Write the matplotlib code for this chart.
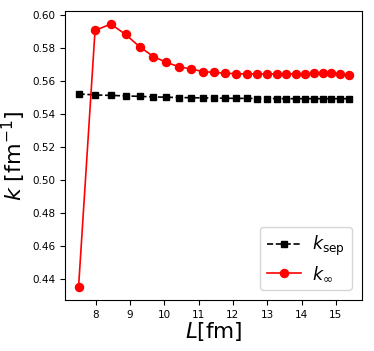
import numpy as np
import matplotlib
matplotlib.use("Agg")
import matplotlib.pyplot as plt

L = [7.50, 7.98, 8.44, 8.87, 9.29, 9.68, 10.06, 10.43, 10.78, 11.12, 11.46, 11.78,
     12.09, 12.40, 12.70, 12.99, 13.28, 13.56, 13.83, 14.10, 14.36, 14.62, 14.87,
     15.12, 15.37]
k_sep = [0.5521, 0.5515, 0.5512, 0.5509, 0.5506, 0.5503, 0.5501, 0.5499, 0.5498,
         0.5497, 0.5496, 0.5495, 0.5494, 0.5494, 0.5493, 0.5493, 0.5493, 0.5492,
         0.5492, 0.5492, 0.5492, 0.5492, 0.5492, 0.5492, 0.5492]
k_inf = [0.4350, 0.5906, 0.5945, 0.5882, 0.5805, 0.5748, 0.5712, 0.5686, 0.5672,
         0.5657, 0.5651, 0.5647, 0.5643, 0.5643, 0.5641, 0.5643, 0.5641, 0.5643,
         0.5643, 0.5643, 0.5645, 0.5646, 0.5647, 0.5644, 0.5635]

fig = plt.figure(figsize=(3.74, 3.51), dpi=100)
ax = fig.add_axes([0.174, 0.145, 0.794, 0.824])

ax.plot(L, k_sep, 'k--s', ms=5, lw=1.2, label=r'$k_{\rm sep}$')
ax.plot(L, k_inf, 'r-o', ms=5.8, lw=1.2, label=r'$k_{\infty}$')

ax.set_xticks(range(8, 16))
ax.tick_params(labelsize=7.5)
ax.set_xlabel(r'$L$[fm]', fontsize=15.5, labelpad=0)
ax.set_ylabel(r'$k$ [fm$^{-1}$]', fontsize=16, labelpad=3)
ax.legend(loc='lower right', fontsize=12.5, borderaxespad=0.6, handletextpad=0.6,
          labelspacing=0.35, borderpad=0.4)

fig.savefig('out.png', dpi=100)
